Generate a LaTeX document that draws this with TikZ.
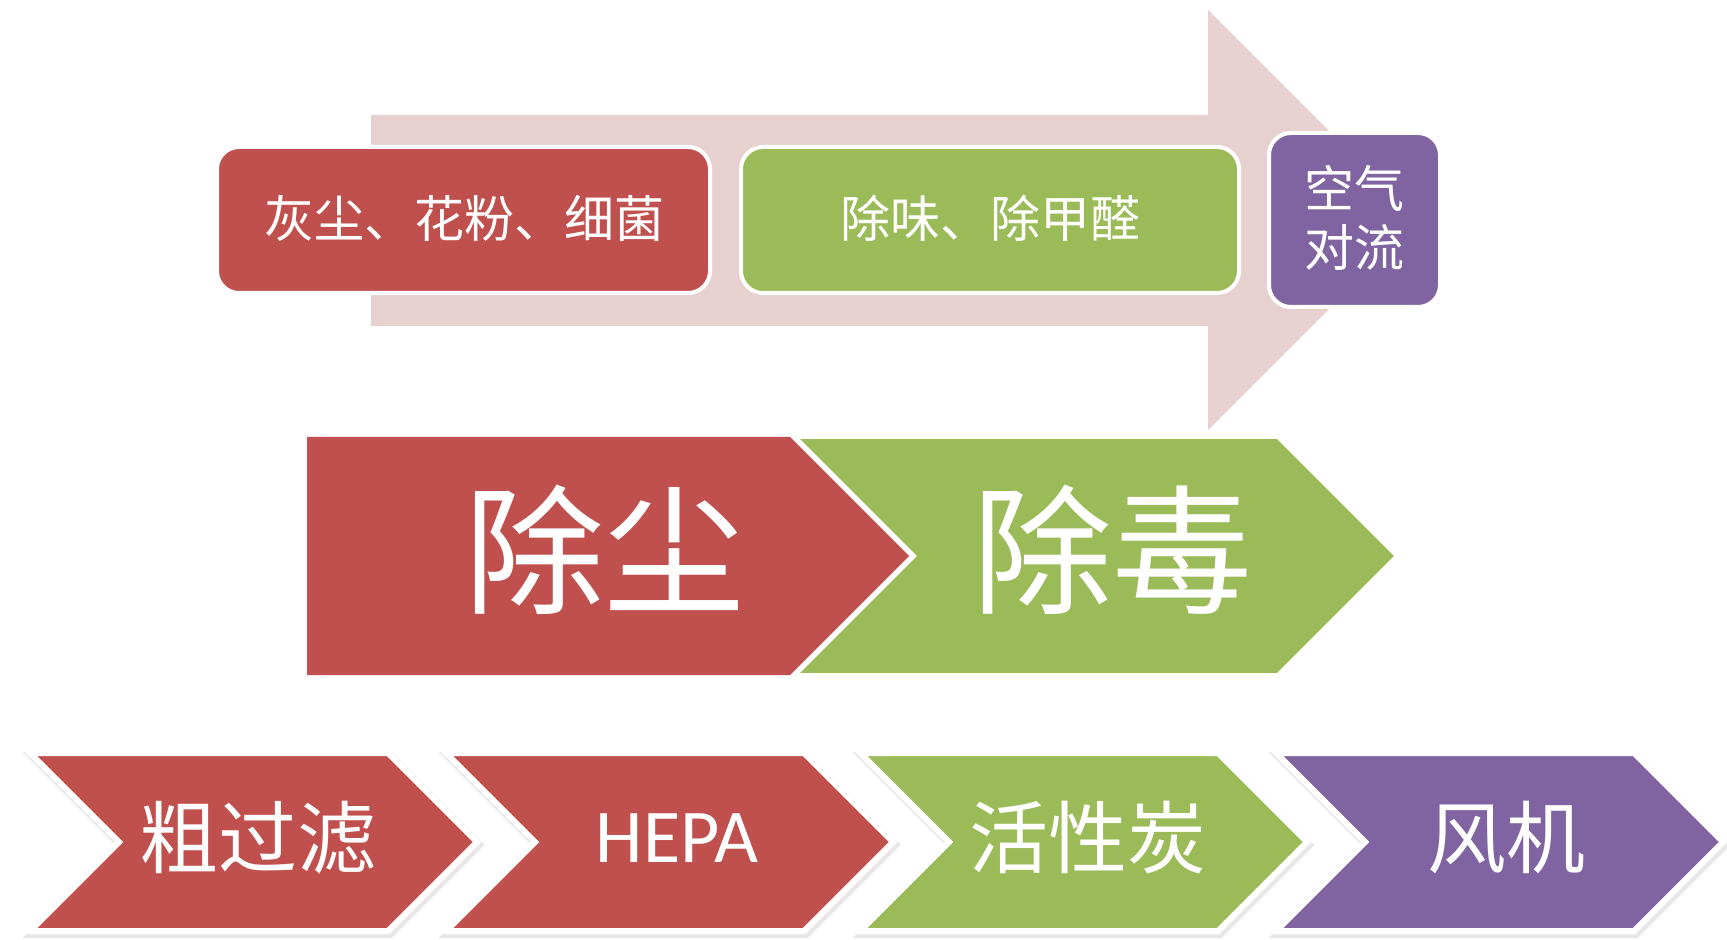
\documentclass[tikz,border=0pt]{standalone}
\usepackage{fontspec}
\newfontfamily\cjk{Noto Sans CJK SC}
\newfontfamily\latin{Carlito}
\usepackage{tikz}

\definecolor{dustred}{RGB}{192,80,77}
\definecolor{leafgreen}{RGB}{155,187,89}
\definecolor{plum}{RGB}{128,100,162}
\definecolor{blush}{RGB}{231,208,208}

\tikzset{
	card/.style={draw=white, line width=2pt, rounded corners=11pt},
	chev/.style={draw=white, line width=3pt, line join=miter},
	chevshade/.style={draw=black!9, line width=4pt, line join=miter, shift={(2,3)}},
	cardtext/.style={text=white, inner sep=0pt, align=center, font=\cjk\fontsize{25}{29.5}\selectfont},
	bigtext/.style={text=white, inner sep=0pt, font=\cjk\fontsize{70}{80}\selectfont},
	steptext/.style={text=white, inner sep=0pt, font=\cjk\fontsize{39.5}{45}\selectfont},
}

\begin{document}
\begin{tikzpicture}[x=0.5pt, y=-0.5pt]
				\useasboundingbox (0,0) rectangle (1727,940);
				
				\fill[blush] (371,115) -- (1208,115) -- (1208,10) -- (1418,220) -- (1208,430) -- (1208,326) -- (371,326) -- cycle;
				
				\filldraw[card, fill=dustred] (217,147) rectangle (710,293);
				\filldraw[card, fill=leafgreen] (741,147) rectangle (1239,293);
				\filldraw[card, fill=plum] (1269,133) rectangle (1440,307);
				
				\node[cardtext] (dust) at (464,218) {灰尘、花粉、细菌};
				\node[cardtext] (odor) at (990,218) {除味、除甲醛};
				\node[cardtext] (air) at (1354,218) {空气\\对流};
				
				\fill[dustred] (307,437) -- (790,437) -- (909,556) -- (790,675) -- (307,675) -- cycle;
				\filldraw[draw=white, line width=2pt, fill=leafgreen] (795,437) -- (1278,437) -- (1397,556) -- (1278,675) -- (795,675) -- (914,556) -- cycle;
				
				\node[bigtext] (dedust) at (604,550) {除尘};
				\node[bigtext] (detox) at (1112,550) {除毒};
				
				\draw[chevshade] (30,753) -- (388,753) -- (477,842) -- (388,931) -- (30,931) -- (119,842) -- cycle;
				\draw[chevshade] (446,753) -- (804,753) -- (893,842) -- (804,931) -- (446,931) -- (535,842) -- cycle;
				\draw[chevshade] (860,753) -- (1218,753) -- (1307,842) -- (1218,931) -- (860,931) -- (949,842) -- cycle;
				\draw[chevshade] (1276,753) -- (1634,753) -- (1723,842) -- (1634,931) -- (1276,931) -- (1365,842) -- cycle;
				
				\filldraw[chev, fill=dustred] (30,753) -- (388,753) -- (477,842) -- (388,931) -- (30,931) -- (119,842) -- cycle;
				\filldraw[chev, fill=dustred] (446,753) -- (804,753) -- (893,842) -- (804,931) -- (446,931) -- (535,842) -- cycle;
				\filldraw[chev, fill=leafgreen] (860,753) -- (1218,753) -- (1307,842) -- (1218,931) -- (860,931) -- (949,842) -- cycle;
				\filldraw[chev, fill=plum] (1276,753) -- (1634,753) -- (1723,842) -- (1634,931) -- (1276,931) -- (1365,842) -- cycle;
				
				\node[steptext] (coarse) at (258,838) {粗过滤};
				\node[steptext, font=\latin\fontsize{38}{44}\selectfont] (hepa) at (677,838) {HEPA};
				\node[steptext] (carbon) at (1088,838) {活性炭};
				\node[steptext] (fan) at (1506,838) {风机};
\end{tikzpicture}
\end{document}
